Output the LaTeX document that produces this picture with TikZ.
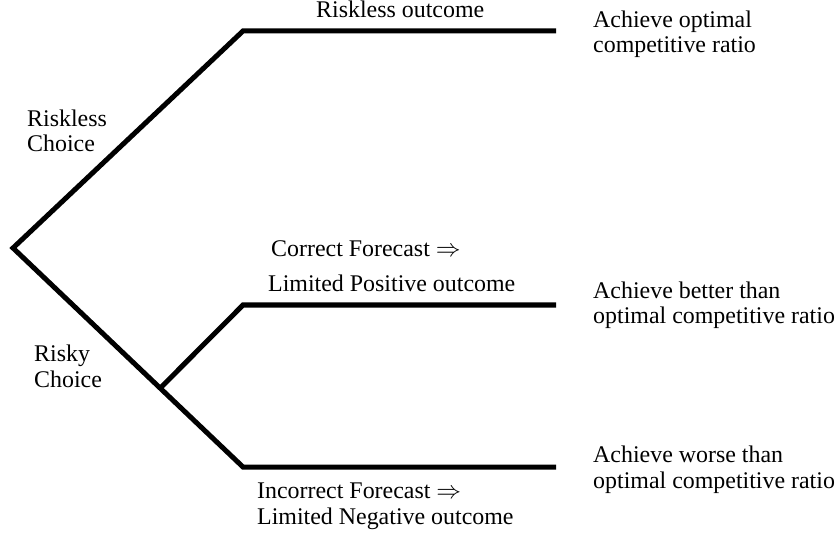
\documentclass[tikz,border=0pt]{standalone}
\usepackage{fontspec}
\setmainfont{Liberation Serif}
\usetikzlibrary{calc}

\begin{document}
\begin{tikzpicture}[x=1bp, y=-1bp,
    branch/.style={draw, line width=5bp},
    lbl/.style={anchor=base west, inner sep=0pt, align=left, font=\fontsize{24}{26}\selectfont}]
        \useasboundingbox (0,0) rectangle (839,535);
        % points
        \coordinate(Root) at (13,248);
        \coordinate(SafeKnee) at (243,31);
        \coordinate(SafeEnd) at (556,31);
        \coordinate(BadKnee) at (243,467);
        \coordinate(BadEnd) at (556,467);
        \coordinate(Split) at ($(Root)!0.64!(BadKnee)$);
        \coordinate(GoodKnee) at (243,305);
        \coordinate(GoodEnd) at (556,305);
        % branches
        \path[branch](SafeEnd)--(SafeKnee)--(Root)--(BadKnee)--(BadEnd);
        \path[branch](Split)--(GoodKnee)--(GoodEnd);
        % choices (anchored at the last line)
        \node[lbl](SafeChoice) at (27,152) {Riskless\\Choice};
        \node[lbl](RiskChoice) at (34,387) {Risky\\Choice};
        % outcomes
        \node[lbl](SafeOut) at (316,18) {Riskless outcome};
        \node[lbl](GoodCond) at (271,257) {Correct Forecast $\Rightarrow$};
        \node[lbl](GoodOut) at (268,292) {Limited Positive outcome};
        \node[lbl](BadOut) at (257,524) {Incorrect Forecast $\Rightarrow$\\Limited Negative outcome};
        % results
        \node[lbl](SafeRes) at (593,53) {Achieve optimal\\competitive ratio};
        \node[lbl](GoodRes) at (593,324) {Achieve better than\\optimal competitive ratio};
        \node[lbl](BadRes) at (593,488) {Achieve worse than\\optimal competitive ratio};
    \end{tikzpicture}
\end{document}
